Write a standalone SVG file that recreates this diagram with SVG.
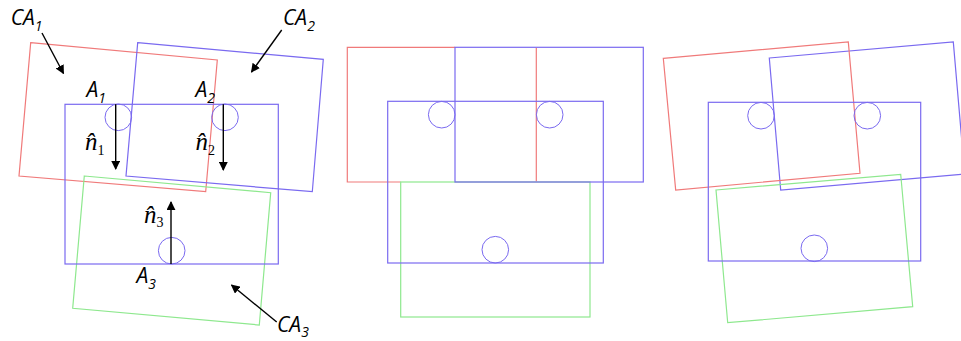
<svg xmlns="http://www.w3.org/2000/svg" width="961" height="341" viewBox="0 0 961 341">
<defs>
<marker id="ah" viewBox="0 0 10 10" refX="9" refY="5" markerWidth="9" markerHeight="9" markerUnits="userSpaceOnUse" orient="auto">
<path d="M0,0 L10,5 L0,10 z" fill="#000"/>
</marker>
<style>
.r{fill:none;stroke:#f07a7a;stroke-width:1.2}
.b{fill:none;stroke:#7a6af0;stroke-width:1.2}
.g{fill:none;stroke:#8ee88e;stroke-width:1.2}
.c{fill:none;stroke:#7a6af0;stroke-width:1}
.lbl{font-family:"Open Sans","Liberation Sans",sans-serif;font-style:italic;fill:#000}
.big{font-size:21px}
.sub{font-size:14px}
.nh{font-family:"Liberation Serif","DejaVu Serif",serif;font-style:italic;font-size:25px;fill:#000}
.ar{stroke:#000;stroke-width:1.4;fill:none;marker-end:url(#ah)}
</style>
</defs>
<rect width="961" height="341" fill="#fff"/>

<!-- Panel 1 -->
<g id="p1-ca1"><polygon class="r" points="30.7,42.7 217.3,60 205.7,191.7 19,176"/></g>
<g id="p1-ca2"><polygon class="b" points="137.7,42.7 323.3,59.3 312.3,191.7 126,176"/></g>
<g id="p1-ca3"><polygon class="g" points="84.3,176 270.7,192.7 259.3,325 72.7,308.3"/></g>
<g id="p1-agents"><rect class="b" x="65" y="104.3" width="213.3" height="159.7"/></g>
<g id="p1-a1"><circle class="c" cx="118.3" cy="117.3" r="13.3"/></g>
<g id="p1-a2"><circle class="c" cx="225" cy="117.3" r="13.3"/></g>
<g id="p1-a3"><circle class="c" cx="171.7" cy="250.7" r="13.3"/></g>

<g id="p1-labels">
<text class="lbl big" x="10.7" y="25">CA<tspan class="sub" dy="6">1</tspan></text>
<text class="lbl big" x="283" y="25">CA<tspan class="sub" dy="6">2</tspan></text>
<text class="lbl big" x="277" y="332">CA<tspan class="sub" dy="5">3</tspan></text>
<text class="lbl big" x="86.5" y="97">A<tspan class="sub" dy="6">1</tspan></text>
<text class="lbl big" x="195.5" y="97">A<tspan class="sub" dy="6">2</tspan></text>
<text class="lbl big" x="136.5" y="282.5">A<tspan class="sub" dy="6">3</tspan></text>
<text class="nh" x="85" y="150">n̂<tspan class="sub" font-style="normal" dy="5">1</tspan></text>
<text class="nh" x="195.5" y="150">n̂<tspan class="sub" font-style="normal" dy="5">2</tspan></text>
<text class="nh" x="144" y="223">n̂<tspan class="sub" font-style="normal" dy="4">3</tspan></text>
</g>

<g id="connectors">
<line class="ar" x1="42" y1="33" x2="63.5" y2="73.5"/>
<line class="ar" x1="281.7" y1="30" x2="251.5" y2="72"/>
<line class="ar" x1="276.7" y1="322" x2="231.5" y2="285"/>
<line class="ar" x1="115.7" y1="104.3" x2="115.7" y2="169"/>
<line class="ar" x1="223.3" y1="104.3" x2="223.3" y2="170"/>
<line class="ar" x1="171" y1="264" x2="171" y2="202"/>
</g>

<!-- Panel 2 -->
<g id="p2-ca1"><path class="r" d="M455,47.3 H347.3 V182 H400.7 M536.3,47.9 V181.4"/></g>
<g id="p2-ca3"><rect class="g" x="400.7" y="182" width="189.3" height="135"/></g>
<g id="p2-ca2"><rect class="b" x="455" y="47.3" width="188.3" height="134.7"/></g>
<g id="p2-agents"><rect class="b" x="387.7" y="101.3" width="215.6" height="161.7"/></g>
<g id="p2-a1"><circle class="c" cx="441.7" cy="114.7" r="13.3"/></g>
<g id="p2-a2"><circle class="c" cx="549.7" cy="114.7" r="13.3"/></g>
<g id="p2-a3"><circle class="c" cx="495.3" cy="249.7" r="13.3"/></g>

<!-- Panel 3 -->
<g id="p3-ca2"><polygon class="b" points="769.3,58 953.3,42 964.7,174 780.7,190"/></g>
<g id="p3-ca1"><polygon class="r" points="663.3,58.3 848.3,42 860,173.3 675.7,190"/></g>
<g id="p3-ca3"><polygon class="g" points="716,190 900.7,174.3 912.7,306.7 727.7,322.7"/></g>
<g id="p3-agents"><rect class="b" x="708.3" y="102.3" width="212.4" height="158.7"/></g>
<g id="p3-a1"><circle class="c" cx="761" cy="115.7" r="13.3"/></g>
<g id="p3-a2"><circle class="c" cx="867.3" cy="115.7" r="13.3"/></g>
<g id="p3-a3"><circle class="c" cx="814.3" cy="248.3" r="13.3"/></g>
</svg>
